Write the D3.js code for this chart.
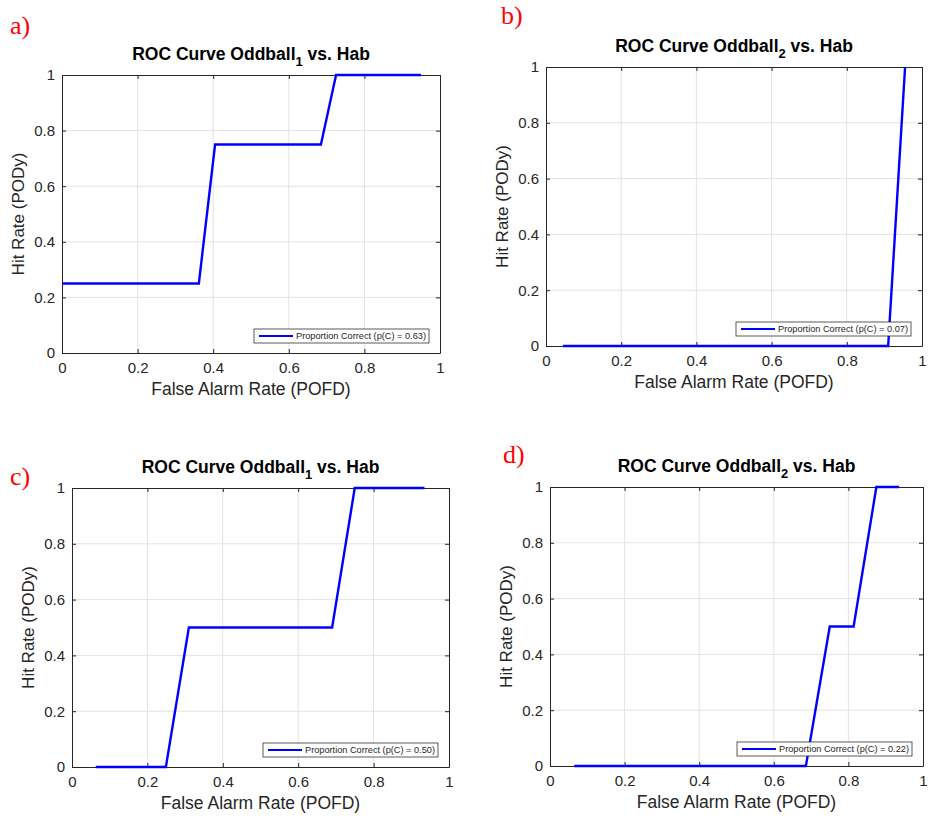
<!DOCTYPE html>
<html>
<head>
<meta charset="utf-8">
<script src="https://cdn.jsdelivr.net/npm/d3@7"></script>
<style>
  html, body { margin: 0; padding: 0; background: #fff; }
  svg { display: block; font-family: "Liberation Sans", Arial, sans-serif; }
</style>
</head>
<body>
<div id="chart"></div>
<script>
// ROC curve data
const xTicks = [0, 0.2, 0.4, 0.6, 0.8, 1];
const yTicks = [0, 0.2, 0.4, 0.6, 0.8, 1];

const aFalseAlarm = [0, 0.362, 0.405, 0.685, 0.725, 0.95];
const aHitRate    = [0.25, 0.25, 0.75, 0.75, 1, 1];
const bFalseAlarm = [0.045, 0.91, 0.955];
const bHitRate    = [0, 0, 1];
const cFalseAlarm = [0.063, 0.249, 0.31, 0.69, 0.75, 0.935];
const cHitRate    = [0, 0, 0.5, 0.5, 1, 1];
const dFalseAlarm = [0.065, 0.686, 0.75, 0.814, 0.875, 0.936];
const dHitRate    = [0, 0, 0.5, 0.5, 1, 1];

const panelLabels = ["a)", "b)", "c)", "d)"];
const subscripts  = ["1", "2", "1", "2"];
const pcValues    = ["0.63", "0.07", "0.50", "0.22"];

// layout of each panel (plot box in page pixels)
const panels = [
  { x: aFalseAlarm, y: aHitRate, L: 62,  R: 440, T: 75,  B: 353, lab: [10, 34] },
  { x: bFalseAlarm, y: bHitRate, L: 546, R: 922, T: 67,  B: 346, lab: [501, 24] },
  { x: cFalseAlarm, y: cHitRate, L: 72,  R: 449, T: 488, B: 767, lab: [10, 485] },
  { x: dFalseAlarm, y: dHitRate, L: 550, R: 923, T: 487, B: 766, lab: [503, 463] }
];

const W = 928, H = 822;
const svg = d3.select("#chart").append("svg")
  .attr("width", W).attr("height", H);

const ink = "#262626";

panels.forEach((p, i) => {
  const g = svg.append("g").attr("transform", `translate(${p.L},${p.T})`);
  const iW = p.R - p.L, iH = p.B - p.T;
  const xs = d3.scaleLinear().domain([0, 1]).range([0, iW]);
  const ys = d3.scaleLinear().domain([0, 1]).range([iH, 0]);

  // Grid
  g.append("g").selectAll("line")
    .data(xTicks.slice(1, -1)).enter().append("line")
    .attr("x1", d => xs(d)).attr("x2", d => xs(d))
    .attr("y1", 0).attr("y2", iH)
    .attr("stroke", "#e3e3e3").attr("stroke-width", 1);
  g.append("g").selectAll("line")
    .data(yTicks.slice(1, -1)).enter().append("line")
    .attr("x1", 0).attr("x2", iW)
    .attr("y1", d => ys(d)).attr("y2", d => ys(d))
    .attr("stroke", "#e3e3e3").attr("stroke-width", 1);

  // Axes (ticks inward, box on)
  const styleAx = ax => {
    ax.select(".domain").attr("stroke", ink).attr("stroke-width", 1);
    ax.selectAll(".tick line").attr("stroke", ink);
    ax.selectAll("text")
      .style("fill", ink)
      .style("font-size", "15px")
      .style("font-family", "Liberation Sans, Arial, sans-serif");
  };
  g.append("g").attr("transform", `translate(0,${iH})`)
    .call(d3.axisBottom(xs).tickValues(xTicks).tickFormat(d3.format("")).tickSizeInner(-4).tickSizeOuter(0).tickPadding(9))
    .call(styleAx);
  g.append("g")
    .call(d3.axisLeft(ys).tickValues(yTicks).tickFormat(d3.format("")).tickSizeInner(-4).tickSizeOuter(0).tickPadding(7))
    .call(styleAx);
  g.append("g")
    .call(d3.axisTop(xs).tickValues(xTicks).tickFormat("").tickSizeInner(-4).tickSizeOuter(0))
    .call(styleAx);
  g.append("g").attr("transform", `translate(${iW},0)`)
    .call(d3.axisRight(ys).tickValues(yTicks).tickFormat("").tickSizeInner(-4).tickSizeOuter(0))
    .call(styleAx);

  // ROC line
  const line = d3.line()
    .x(d => xs(d[0]))
    .y(d => ys(d[1]));
  g.append("path")
    .datum(d3.zip(p.x, p.y))
    .attr("fill", "none")
    .attr("stroke", "#0000ff")
    .attr("stroke-width", 2.4)
    .attr("stroke-linejoin", "miter")
    .attr("d", line);

  // Title
  const t = g.append("text")
    .attr("x", iW / 2).attr("y", -15)
    .attr("text-anchor", "middle")
    .style("font-size", "17.5px").style("font-weight", "bold")
    .style("fill", "#000");
  t.append("tspan").text("ROC Curve Oddball");
  t.append("tspan").attr("dy", 6).style("font-size", "13px").text(subscripts[i]);
  t.append("tspan").attr("dy", -6).text(" vs. Hab");

  // Axis labels
  g.append("text")
    .attr("x", iW / 2).attr("y", iH + 42)
    .attr("text-anchor", "middle")
    .style("font-size", "17.5px").style("fill", ink)
    .text("False Alarm Rate (POFD)");
  g.append("text")
    .attr("transform", `translate(-38,${iH / 2}) rotate(-90)`)
    .attr("text-anchor", "middle")
    .style("font-size", "17px").style("fill", ink)
    .text("Hit Rate (PODy)");

  // Legend
  const lw = 175, lh = 14;
  const lg = g.append("g").attr("transform", `translate(${iW - lw - 11},${iH - lh - 10})`);
  lg.append("rect").attr("width", lw).attr("height", lh)
    .attr("fill", "#fff").attr("stroke", "#333").attr("stroke-width", 0.8);
  lg.append("line").attr("x1", 5).attr("x2", 39).attr("y1", lh / 2).attr("y2", lh / 2)
    .attr("stroke", "#0000ff").attr("stroke-width", 2);
  lg.append("text").attr("x", 42).attr("y", lh / 2 + 3.2)
    .style("font-size", "9.2px").style("fill", ink)
    .text(`Proportion Correct (p(C) = ${pcValues[i]})`);

  // Panel label
  svg.append("text")
    .attr("x", p.lab[0]).attr("y", p.lab[1])
    .style("font-family", "Liberation Serif, Times New Roman, serif")
    .style("font-size", "26px").style("fill", "#ff0000")
    .text(panelLabels[i]);
});
</script>
</body>
</html>
